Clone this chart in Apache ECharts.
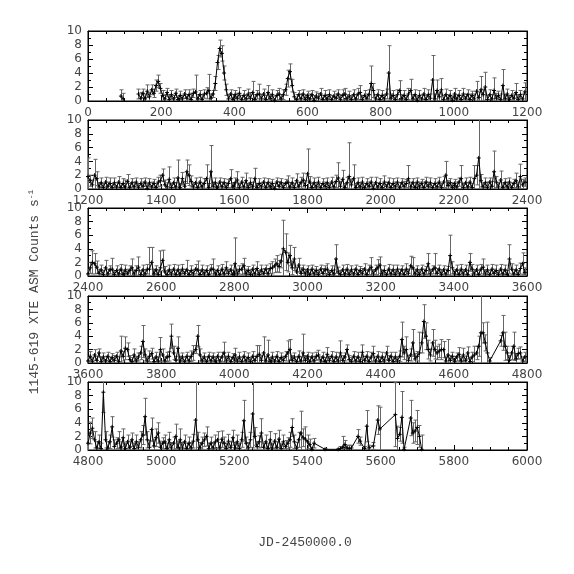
<!DOCTYPE html>
<html><head><meta charset="utf-8">
<script src="https://cdn.jsdelivr.net/npm/echarts@6/dist/echarts.min.js"></script>
<style>html,body{margin:0;padding:0;background:#fff}#c{width:574px;height:574px}</style>
</head><body><div id="c"></div>
<script>
// ---- data (JD-2450000.0 panels, one sample every 6 days from panel start) ----
const panelStarts = [0, 1200, 2400, 3600, 4800];
const panelSpan = 1200;
const stepDays = 6;
const yTickValues = [0, 2, 4, 6, 8, 10];

const p1Val = [
 null,null,null,null,null,null,null,null,null,null,null,null,null,null,null,0.7,0.3,null,null,null,
 null,null,null,1.0,0.4,1.1,0.3,1.4,0.6,1.6,1.1,2.2,2.8,1.8,0.8,0.3,1.2,0.2,0.9,0.3,
 1.1,0.2,0.8,0.3,1.0,0.4,0.9,0.2,1.1,1.3,0.3,0.9,0.2,1.0,1.1,1.5,0.4,1.0,2.5,5.5,
 7.5,6.8,4.0,1.6,0.3,1.0,0.2,0.9,0.4,1.1,0.2,0.8,0.3,1.0,0.4,1.2,0.2,0.9,1.0,0.3,
 1.0,0.2,1.2,0.4,0.9,0.1,0.8,1.0,0.3,0.9,1.6,3.2,4.2,2.2,0.6,0.2,0.9,0.3,1.0,0.2,
 0.8,0.3,0.9,0.1,0.7,0.4,1.0,0.2,0.8,0.3,0.9,0.2,0.7,0.4,1.0,0.2,0.8,1.0,0.3,0.7,
 0.2,0.9,0.3,1.0,1.2,0.2,0.8,0.4,0.9,2.5,1.5,0.3,0.9,0.2,0.8,0.3,1.0,4.0,0.4,0.8,
 0.2,0.9,1.5,0.3,0.8,0.2,1.0,1.5,0.3,0.9,0.1,0.8,0.3,1.0,0.2,0.9,0.4,3.0,0.3,1.5,
 0.6,1.6,0.2,0.9,0.3,0.8,0.1,1.0,0.3,0.8,0.2,1.0,0.4,0.9,0.2,0.8,0.3,1.4,0.5,1.6,
 0.9,2.0,0.2,0.9,0.3,1.5,0.4,0.8,0.2,2.2,0.3,1.0,0.2,0.8,0.4,1.2,0.2,0.9,0.3,1.3];
const p1Err = [
 null,null,null,null,null,null,null,null,null,null,null,null,null,null,null,0.9,0.8,null,null,null,
 null,null,null,0.7,0.8,0.6,0.7,0.9,0.6,0.7,0.6,0.8,0.9,0.7,0.7,0.6,0.6,0.7,0.6,0.5,
 0.6,0.5,0.6,0.5,0.6,0.5,0.7,0.9,0.6,2.4,0.6,0.6,0.7,0.6,0.8,2.3,0.6,0.5,1.0,1.0,
 1.2,1.1,1.0,0.8,0.6,0.6,0.7,0.6,0.7,0.8,0.6,0.7,0.6,0.7,0.8,1.6,0.7,0.6,1.4,0.6,
 0.7,0.6,1.0,0.6,0.7,0.6,0.7,0.8,0.6,0.7,0.8,1.2,1.1,0.9,0.6,0.7,0.6,0.7,0.6,0.7,
 0.6,0.7,0.6,0.7,0.6,0.7,0.8,0.6,0.7,0.6,0.7,0.6,0.7,0.6,0.6,0.7,0.8,0.8,0.6,0.7,
 0.6,0.7,0.6,0.8,1.0,0.6,0.7,0.6,0.7,2.5,1.0,0.6,0.7,0.6,0.7,0.6,0.7,3.9,0.6,0.7,
 0.6,0.7,1.4,0.6,0.7,0.6,0.8,1.6,0.6,0.7,0.6,0.7,0.6,0.8,0.6,0.7,0.6,3.5,0.7,1.5,
 0.7,1.6,0.6,0.8,0.6,0.7,0.6,0.8,0.6,0.7,0.6,0.8,0.6,0.7,0.8,0.6,0.7,1.4,0.8,1.9,
 0.8,2.1,0.6,0.7,0.6,1.8,0.7,0.6,0.8,2.3,0.6,0.7,0.6,0.7,0.6,1.3,0.7,0.6,0.7,1.3];

const p2Val = [
 1.8,1.2,0.6,2.0,1.5,0.3,0.9,0.2,1.0,0.4,0.8,0.2,0.9,0.3,1.0,0.2,0.8,0.3,1.1,0.2,
 0.9,0.3,1.0,0.2,0.8,0.4,1.0,0.1,0.9,0.3,0.8,0.2,1.0,1.2,2.0,0.6,0.3,1.4,0.2,0.9,
 0.3,1.6,0.2,1.5,0.4,2.5,2.0,1.1,0.3,0.9,0.2,1.0,0.3,0.8,1.5,0.2,2.5,0.4,0.9,0.2,
 1.0,0.3,0.9,0.2,0.8,1.5,0.3,0.9,1.3,0.2,1.0,0.3,1.2,0.2,0.9,0.4,1.5,0.2,0.8,0.3,
 1.0,0.2,0.9,0.3,0.8,0.1,1.0,0.4,0.9,0.2,0.8,1.0,0.3,0.9,0.2,1.2,0.4,0.9,1.3,0.5,
 2.2,1.0,0.2,0.9,0.3,1.0,0.2,0.8,0.4,0.9,0.2,1.0,0.3,1.1,1.6,0.4,1.4,0.2,0.9,1.8,
 0.6,1.5,0.2,0.9,0.3,1.0,0.2,0.8,0.4,1.0,0.1,0.9,0.3,0.8,0.2,1.0,0.4,0.9,0.2,0.8,
 0.3,1.0,0.2,0.9,0.4,0.8,1.5,0.3,0.9,0.2,1.0,0.3,0.8,0.2,1.0,0.4,0.9,0.2,0.8,0.3,
 1.0,0.2,1.0,2.0,0.5,0.9,0.2,0.8,0.3,1.0,1.5,0.2,0.9,0.3,1.0,0.2,1.5,2.0,4.5,1.2,
 0.3,0.9,0.2,1.0,0.4,2.5,1.0,0.3,1.3,0.2,0.9,0.3,1.0,0.2,0.8,1.2,0.3,1.8,0.6,1.0];
const p2Err = [
 2.7,0.8,0.7,2.3,1.0,0.6,0.7,0.6,0.7,0.6,0.8,0.6,0.7,0.6,0.8,0.6,0.7,1.0,1.0,0.6,
 0.6,0.7,0.6,0.6,0.7,0.6,0.6,0.7,0.6,0.7,0.6,0.6,0.7,0.8,0.9,0.7,0.6,1.8,0.6,0.7,
 0.6,2.6,0.6,0.9,0.7,1.7,1.5,0.8,0.6,0.7,0.6,0.7,0.6,0.7,2.0,0.6,3.8,0.6,0.7,0.6,
 0.6,0.7,0.6,0.7,0.6,1.3,0.6,0.7,1.2,0.6,0.7,0.6,1.1,0.6,0.7,0.6,1.5,0.6,0.7,0.6,
 0.6,0.7,0.6,0.7,0.6,0.7,0.6,0.7,0.6,0.7,0.6,0.9,0.6,0.7,0.6,1.0,0.6,0.8,1.0,0.7,
 3.6,0.8,0.6,0.7,0.6,0.7,0.6,0.7,0.6,0.7,0.6,0.7,0.6,0.9,2.2,0.7,1.3,0.6,0.8,4.9,
 0.8,2.0,0.6,0.7,0.6,0.7,0.6,0.7,0.6,0.7,0.6,0.8,0.6,0.7,0.6,0.9,0.6,0.7,0.6,0.7,
 0.7,0.6,0.7,0.6,0.7,0.6,1.9,0.7,0.6,0.7,0.6,0.7,0.6,0.8,0.7,0.6,0.7,0.6,0.7,0.6,
 0.7,0.6,0.8,2.0,0.7,0.6,0.7,0.6,0.7,0.6,1.9,0.6,0.7,0.6,0.7,0.6,1.9,1.4,6.0,0.9,
 0.6,0.7,0.8,0.6,0.7,3.0,0.8,0.6,1.3,0.7,0.6,0.7,0.6,0.7,0.6,1.1,0.7,1.8,0.8,0.6];

const p3Val = [
 0.3,1.2,2.0,1.8,1.3,0.4,0.9,0.2,1.2,0.3,0.9,1.0,0.2,0.8,0.3,1.0,0.2,0.9,0.4,0.8,
 1.2,0.3,0.8,1.3,0.2,0.9,0.3,1.0,1.0,2.0,0.3,0.9,0.2,1.2,2.3,0.6,0.2,0.9,0.3,1.0,
 0.2,0.9,0.3,1.0,0.4,0.9,0.2,0.8,0.3,1.0,0.9,0.2,0.9,0.3,0.8,0.2,1.0,1.0,0.3,0.8,
 0.2,1.0,0.3,1.2,0.4,0.9,0.2,1.8,0.3,0.9,1.0,1.5,0.3,0.8,0.2,1.0,0.3,1.1,0.2,0.9,
 0.4,1.0,0.3,1.1,1.2,1.5,1.8,1.4,2.2,4.0,3.5,2.0,3.0,1.2,2.5,0.6,1.6,0.4,1.0,0.3,
 0.9,0.2,1.0,0.3,0.8,0.2,1.0,0.4,0.9,1.0,0.2,0.8,0.3,2.5,0.6,0.2,0.9,0.3,1.0,0.2,
 0.9,0.3,1.0,0.2,0.8,0.4,1.0,0.2,0.9,1.3,0.3,0.9,1.2,1.6,0.3,0.8,0.2,1.0,0.3,0.9,
 0.2,1.0,0.3,0.9,0.2,1.0,0.4,1.5,1.2,0.3,0.9,0.2,1.0,0.3,0.8,1.8,0.3,0.9,1.2,0.4,
 1.0,0.2,0.9,0.3,0.8,3.0,1.2,0.3,0.9,0.2,1.0,0.3,0.9,0.2,2.0,1.0,0.3,0.9,0.2,1.0,
 1.3,0.3,0.9,0.2,1.0,0.4,0.8,0.2,1.0,0.3,0.9,0.2,2.5,1.0,0.3,0.9,0.2,1.1,1.8,0.5];
const p3Err = [
 0.6,0.8,1.7,1.5,0.9,0.6,0.7,0.6,1.1,0.7,0.6,1.6,0.6,0.7,0.6,0.7,0.6,0.7,0.6,0.7,
 1.3,0.6,0.7,1.5,0.6,0.7,0.6,0.7,3.2,2.2,0.7,0.6,0.7,2.5,1.5,0.8,0.6,0.7,0.6,0.7,
 0.6,0.7,0.6,0.7,0.6,1.4,0.6,0.7,0.6,0.7,1.3,0.6,0.7,0.6,0.7,0.6,0.7,1.5,0.6,0.7,
 0.6,0.7,0.6,0.9,0.6,0.7,0.6,3.8,0.7,0.6,0.8,1.1,0.7,0.6,0.7,0.6,0.7,1.0,0.6,0.7,
 0.7,0.6,0.8,0.7,0.9,1.0,1.2,0.9,1.0,4.2,2.7,1.4,1.5,1.0,1.7,0.7,1.0,0.8,0.6,0.7,
 0.6,0.7,0.6,0.7,0.6,0.7,0.6,0.7,0.6,0.8,0.6,0.7,0.6,2.1,0.7,0.6,0.7,0.6,0.7,0.6,
 0.6,0.7,0.6,0.7,0.6,0.7,0.8,0.6,0.7,1.4,0.6,0.7,1.2,1.2,0.6,0.7,0.6,0.7,0.6,0.7,
 0.7,0.6,0.7,0.6,0.7,0.8,0.6,1.4,1.5,0.7,0.6,0.7,0.6,0.7,0.6,1.5,0.7,0.6,2.1,0.7,
 0.6,0.7,0.6,0.7,0.6,3.0,0.9,0.6,0.7,0.6,0.7,0.6,0.7,0.6,1.3,0.7,0.6,0.7,0.6,0.7,
 1.2,0.6,0.7,0.6,0.7,0.6,0.8,0.6,0.7,0.6,0.7,0.6,2.1,0.8,0.6,0.7,0.6,0.8,1.6,0.7];

const p4Val = [
 0.3,1.0,0.2,1.2,0.4,1.5,0.2,0.9,0.3,1.0,0.2,0.8,0.4,1.0,0.2,1.8,1.0,2.2,2.0,0.5,
 0.2,1.2,0.3,0.9,1.5,3.2,1.2,0.3,1.0,1.4,0.2,0.9,0.3,2.0,1.2,0.3,0.9,1.0,4.0,1.5,
 0.4,2.2,0.3,0.9,0.2,1.0,0.3,1.0,1.5,2.0,4.0,1.2,0.3,0.9,0.2,1.0,0.3,0.9,0.2,1.0,
 0.3,0.9,1.5,0.3,1.0,0.2,0.8,1.2,0.3,0.9,0.2,1.0,0.3,0.8,0.2,1.0,0.4,1.0,1.3,0.4,
 1.5,0.3,1.2,0.2,0.9,0.3,1.0,0.2,0.8,0.4,1.0,1.5,2.0,0.4,0.9,0.2,1.0,0.3,1.5,0.4,
 1.0,0.2,0.9,0.3,1.0,1.2,0.3,0.9,0.2,1.3,0.4,1.0,0.2,0.9,0.3,1.5,0.4,0.9,2.0,0.5,
 0.2,1.0,0.3,0.9,0.2,1.6,0.4,1.0,0.2,0.9,1.4,0.3,1.0,0.2,0.9,0.3,1.5,0.4,1.0,0.2,
 0.9,0.3,1.0,3.5,1.5,2.0,0.4,1.2,3.0,0.6,1.0,1.5,3.0,6.2,4.0,2.0,1.2,3.0,2.0,1.5,
 1.8,2.0,2.0,0.3,1.2,0.4,1.0,0.2,0.9,1.3,0.3,1.2,0.4,1.5,0.2,0.9,1.2,1.5,2.5,4.5,
 4.5,3.0,1.5,0.3,null,null,null,null,3.3,4.5,2.5,1.5,0.4,1.5,2.5,0.6,1.4,1.5,0.3,0.9];
const p4Err = [
 0.6,0.7,0.6,0.8,0.6,0.6,0.7,0.6,0.7,0.6,0.7,0.6,0.7,0.6,0.7,2.2,0.7,1.7,1.0,0.6,
 0.6,0.9,0.7,0.6,1.0,2.4,0.9,0.6,0.8,0.8,0.6,0.7,0.6,1.8,0.9,0.6,0.7,0.7,1.8,1.0,
 0.6,1.7,0.7,0.6,0.7,0.6,0.7,0.8,1.1,0.6,1.6,0.9,0.7,0.6,0.7,0.6,0.7,0.6,0.7,0.6,
 0.6,0.7,1.6,0.7,0.6,0.7,0.6,1.0,0.6,0.7,0.6,0.7,0.6,0.7,0.6,0.7,0.6,1.6,1.3,0.7,
 2.4,0.7,2.2,0.6,0.7,0.6,0.7,0.6,0.7,0.6,0.7,1.8,1.5,0.7,0.6,0.7,0.8,0.6,2.8,0.7,
 0.6,0.7,0.6,0.7,0.6,0.7,0.6,0.7,0.6,1.0,0.6,0.7,0.6,0.7,0.6,1.8,0.7,0.6,0.7,0.6,
 0.6,0.7,0.6,0.7,0.6,1.1,0.6,0.7,0.6,0.7,1.1,0.6,0.7,0.6,0.7,0.6,1.0,0.7,0.6,0.7,
 0.7,0.6,0.8,2.6,1.0,1.9,0.7,0.9,2.0,0.8,0.7,3.1,1.5,2.5,2.0,1.4,0.9,2.0,1.4,1.0,
 1.0,1.5,1.2,0.6,2.3,0.7,0.6,0.8,0.6,1.0,0.7,1.0,0.6,0.9,0.6,0.7,1.3,1.0,1.5,6.0,
 1.5,1.2,4.6,0.5,null,null,null,null,0.8,2.6,2.1,1.0,0.7,1.0,2.1,0.8,0.8,0.9,0.6,0.7];

const p5Val = [
 1.0,2.5,3.2,1.5,0.3,1.2,0.2,8.5,1.5,0.3,1.2,3.4,0.5,1.0,1.5,0.3,1.8,0.2,1.2,0.4,
 1.5,0.2,1.2,0.4,1.5,2.2,4.9,1.5,0.4,3.0,0.6,1.8,2.5,0.4,1.0,1.2,0.2,1.5,0.3,1.0,
 2.0,0.4,1.5,0.3,1.2,0.2,1.0,0.3,1.3,4.4,1.5,0.3,1.0,1.5,2.0,0.2,1.0,0.3,1.2,1.5,
 0.3,1.6,1.0,0.2,1.3,0.4,1.8,0.3,1.2,0.2,1.5,4.3,1.0,0.3,1.5,5.3,2.0,0.5,1.2,2.5,
 0.4,1.2,0.2,1.5,0.3,1.3,0.4,1.6,0.2,1.2,0.5,1.0,1.5,3.3,1.2,0.3,1.5,2.5,1.8,1.6,
 1.2,0.8,0.1,1.0,null,null,null,null,0.1,null,null,null,null,null,0.1,0.2,0.4,0.8,0.3,0.2,
 0.3,null,null,2.0,1.3,null,0.2,3.5,0.3,null,0.6,null,4.4,3.1,null,null,null,null,null,null,
 5.2,1.7,2.3,4.8,0.1,null,null,4.7,2.5,2.8,3.3,2.0,0.1,null,null,null,null,null,null,null];
const p5Err = [
 1.0,1.6,1.5,1.2,0.9,1.0,0.8,3.0,1.2,0.9,1.0,1.5,1.0,0.8,1.2,0.9,1.3,0.8,1.0,0.9,
 1.0,0.8,1.0,0.8,1.2,1.4,2.7,1.2,1.0,1.7,0.9,1.3,1.5,0.9,0.8,1.0,0.8,1.1,0.8,0.9,
 1.8,0.9,1.6,0.8,1.0,0.8,0.9,0.8,1.0,6.0,1.1,0.8,0.9,1.0,1.4,0.8,0.9,0.8,1.0,1.2,
 0.8,1.2,0.9,0.8,1.0,0.8,1.1,0.8,1.0,0.8,1.1,3.0,0.9,0.8,1.1,5.0,1.3,0.7,0.9,2.1,
 0.6,1.0,0.8,1.2,0.7,1.1,0.8,1.3,0.7,1.0,0.9,0.8,1.1,1.3,1.0,0.8,1.1,3.2,1.3,1.8,
 1.0,0.8,0.3,0.7,null,null,null,null,0.1,null,null,null,null,null,0.1,0.3,1.6,0.6,0.4,0.5,
 0.4,null,null,1.0,0.6,null,0.3,2.3,0.4,null,0.5,null,2.1,3.2,null,null,null,null,null,null,
 4.7,1.8,1.0,3.8,0.3,null,null,2.6,1.5,1.6,2.5,1.6,2.1,null,null,null,null,null,null,null];

const panelVals = [p1Val, p2Val, p3Val, p4Val, p5Val];
const panelErrs = [p1Err, p2Err, p3Err, p4Err, p5Err];
const panelConnect = [false, false, false, true, true];

const yTitle = '1145-619 XTE ASM Counts s';
const xTitle = 'JD-2450000.0';

// ---- layout ----
const gridLeft = 88, gridWidth = 439;
const gridTops = [31, 120, 208, 296, 382];
const gridHeights = [70, 69, 68, 67, 68];

const labelFont = { fontFamily: 'DejaVu Sans', fontSize: 12, color: '#444' };
const grids = [], xAxes = [], yAxes = [], series = [];

function errRender(params, api) {
  const t = api.value(0), v = api.value(1), e = api.value(2);
  const p1 = api.coord([t, v + e]);
  const p2 = api.coord([t, v - e]);
  const x = Math.round(p1[0]) + 0.5;
  const st = { stroke: '#666', lineWidth: 1 };
  return { type: 'group', children: [
    { type: 'line', shape: { x1: x, y1: p1[1], x2: x, y2: p2[1] }, style: st },
    { type: 'line', shape: { x1: x - 2, y1: p1[1], x2: x + 2, y2: p1[1] }, style: st },
    { type: 'line', shape: { x1: x - 2, y1: p2[1], x2: x + 2, y2: p2[1] }, style: st }
  ]};
}

for (let i = 0; i < 5; i++) {
  const start = panelStarts[i];
  grids.push({ left: gridLeft, width: gridWidth, top: gridTops[i], height: gridHeights[i],
    show: true, borderColor: '#000', borderWidth: 1, backgroundColor: 'transparent' });
  const xCommon = { type: 'value', gridIndex: i, min: start, max: start + panelSpan, interval: 200,
    splitLine: { show: false },
    axisLine: { show: true, onZero: false, lineStyle: { color: '#000', width: 1 } },
    axisTick: { show: true, inside: true, length: 5, lineStyle: { color: '#000' } },
    minorTick: { show: true, splitNumber: 4, length: 3, lineStyle: { color: '#000' } } };
  xAxes.push(Object.assign({}, xCommon, { position: 'bottom',
    axisLabel: Object.assign({ show: true, margin: 6, showMinLabel: true, showMaxLabel: true,
      formatter: function (v) { return String(v); } }, labelFont) }));
  xAxes.push(Object.assign({}, xCommon, { position: 'top', axisLabel: { show: false } }));
  const yCommon = { type: 'value', gridIndex: i, min: 0, max: 10, interval: 2,
    splitLine: { show: false },
    axisLine: { show: true, onZero: false, lineStyle: { color: '#000', width: 1 } },
    axisTick: { show: true, inside: true, length: 5, lineStyle: { color: '#000' } },
    minorTick: { show: true, splitNumber: 2, length: 3, lineStyle: { color: '#000' } } };
  yAxes.push(Object.assign({}, yCommon, { position: 'left',
    axisLabel: Object.assign({ show: true, margin: 6, showMinLabel: true, showMaxLabel: true }, labelFont) }));
  yAxes.push(Object.assign({}, yCommon, { position: 'right', axisLabel: { show: false } }));

  const vals = panelVals[i], errs = panelErrs[i];
  const lineData = [], errData = [];
  for (let k = 0; k < vals.length; k++) {
    const t = start + k * stepDays;
    const v = vals[k];
    lineData.push([t, v == null ? null : v]);
    if (v != null && errs[k] != null) errData.push([t, v, errs[k]]);
  }
  series.push({ type: 'custom', xAxisIndex: 2 * i, yAxisIndex: 2 * i, data: errData,
    renderItem: errRender, clip: true, z: 2, silent: true, animation: false });
  series.push({ type: 'line', xAxisIndex: 2 * i, yAxisIndex: 2 * i, data: lineData,
    showSymbol: true, symbol: 'path://M0,5L10,5M5,0L5,10', symbolSize: 4,
    itemStyle: { color: 'none', borderColor: '#000', borderWidth: 1 },
    connectNulls: panelConnect[i], clip: true, z: 3,
    lineStyle: { color: '#000', width: 1 }, silent: true, animation: false });
}

const chart = echarts.init(document.getElementById('c'), null, { renderer: 'canvas' });
chart.setOption({
  animation: false,
  backgroundColor: '#fff',
  grid: grids, xAxis: xAxes, yAxis: yAxes, series: series,
  graphic: [
    { type: 'text', x: 35, y: 292, rotation: Math.PI / 2,
      style: { text: '{a|' + yTitle + '}{b|-1}', align: 'center', verticalAlign: 'middle',
        rich: { a: { fontFamily: 'Liberation Mono', fontSize: 13, fill: '#444' },
                b: { fontFamily: 'Liberation Mono', fontSize: 8, fill: '#444', padding: [0, 0, 9, 0] } } } },
    { type: 'text', x: 305, y: 543,
      style: { text: xTitle, align: 'center', verticalAlign: 'middle',
        fontFamily: 'Liberation Mono', fontSize: 13, fill: '#444' } }
  ]
});
</script>
</body></html>
